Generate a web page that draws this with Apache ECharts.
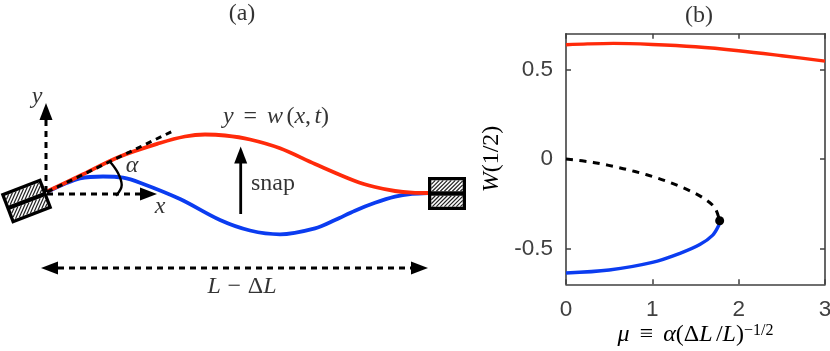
<!DOCTYPE html>
<html><head><meta charset="utf-8">
<script src="https://cdn.jsdelivr.net/npm/echarts@6/dist/echarts.min.js"></script>
<style>html,body{margin:0;padding:0;background:#fff}#c{width:830px;height:351px}</style></head>
<body><div id="c"></div>
<script>
// Panel (b) data: [mu, W]
const upperBranch = [[0,0.638],[0.25,0.643],[0.55,0.646],[1,0.64],[1.5,0.627],[2,0.605],[2.5,0.577],[3,0.547]];
const unstableBranch = [[0,0],[0.316,-0.019],[0.664,-0.054],[0.935,-0.088],[1.205,-0.131],[1.475,-0.187],[1.63,-0.231],[1.726,-0.274],[1.78,-0.345]];
const lowerBranch = [[0,-0.637],[0.5,-0.62],[1,-0.578],[1.32,-0.527],[1.55,-0.478],[1.7,-0.425],[1.77,-0.37],[1.78,-0.345]];
const foldPoint = [[1.78,-0.345]];
const xTicks = [0,1,2,3];
const yTicks = [-0.5,0,0.5];
const yTickLabels = {'-0.5':'-0.5','0':'0','0.5':'0.5'};

// Panel (a) schematic, in drawing units
const beamSnapped = [[47,191.5],[80,175.7],[120,156.5],[160,143],[185,136.5],[205,134.5],[225,135.5],[250,139.5],[280,148.3],[315,164],[355,181],[375,187],[395,191],[412,192.7],[428,193]];
const beamInitial = [[47,192],[62,185],[80,178.3],[103,176.5],[123,177.7],[140,182.7],[180,199],[220,220],[250,230.5],[280,234.3],[315,228.3],[335,220],[355,210.7],[375,202.8],[395,196.7],[412,193.9],[428,193]];
const axisY = [[46,192],[46,120]];
const axisX = [[47,194],[140,194]];
const tangent = [[47,192],[173,131]];
const angleArc = [[110,161.7],[118,173],[121.7,185],[116,195.7]];
const snapShaft = [[240.7,214],[240.7,163]];
const spanLine = [[58,268],[411,268]];
const arrowHeads = [[46,111.5,0],[148.5,194,-90],[240.7,155,0],[419.5,268,-90],[49.5,268,90]];
const clamps = [[26.5,201,21,43,32],[447,193.5,0,38,33]];
const annotations = [
  [242,14,'{r|(a)}'],[699,16,'{r|(b)}'],
  [37,97,'{i|y}'],[160,207,'{i|x}'],[132,166,'{i|α}'],
  [276,117,'{i|y}   {r|=}   {i|w} {r|(}{i|x}{r|,} {i|t}{r|)}'],
  [273,184,'{r|snap}'],[242,287,'{i|L}  {r|−}  {r|Δ}{i|L}']
];

const RED='#ff2a0a', BLUE='#0b3cf0', INK='#404040';
const SIZE=24;
const rich={i:{fontFamily:'Liberation Serif',fontStyle:'italic',fontSize:SIZE,color:'#000'},
            r:{fontFamily:'Liberation Serif',fontSize:SIZE,color:'#000'}};

function hatch(x,y,w,h,step){
  const out=[];
  for(let t=-h;t<w;t+=step){
    let x1=t,y1=y+h,x2=t+h,y2=y;
    if(x1<0){y1=y+h+x1;x1=0;}
    if(x2>w){y2=y+(x2-w);x2=w;}
    out.push({type:'line',shape:{x1:x+x1,y1:y1,x2:x+x2,y2:y2},style:{stroke:'#222',lineWidth:1.2}});
  }
  return out;
}
function renderClamp(p,api){
  const c=api.coord([api.value(0),api.value(1)]);
  const a=api.value(2)*Math.PI/180,w=api.value(3),h=api.value(4);
  const b=3.3,gap=4.5,sw=w-2*b,sh=(h-2*b-gap)/2,x0=-w/2+b,y0=-h/2+b,y1=y0+sh+gap;
  return {type:'group',x:c[0],y:c[1],rotation:a,children:[
    {type:'rect',shape:{x:-w/2,y:-h/2,width:w,height:h},style:{fill:'#000'}},
    {type:'rect',shape:{x:x0,y:y0,width:sw,height:sh},style:{fill:'#fff'}},
    {type:'rect',shape:{x:x0,y:y1,width:sw,height:sh},style:{fill:'#fff'}},
    ...hatch(x0,y0,sw,sh,4),...hatch(x0,y1,sw,sh,4)
  ]};
}
function sketchLine(data,color,width,type,z){
  return {type:'line',xAxisIndex:0,yAxisIndex:0,data,showSymbol:false,symbol:'none',silent:true,
    lineStyle:{color,width,type:type||'solid',cap:'butt'},z:z||2,animation:false};
}
const dash=[6,5];
const chart=echarts.init(document.getElementById('c'),null,{renderer:'canvas'});
const tickAxis={show:true,onZero:false,lineStyle:{color:INK,width:1.6}};
const tickStyle=v=>({inside:true,length:5,lineStyle:{color:INK,width:1.5},customValues:v});
chart.setOption({
  animation:false,backgroundColor:'#fff',
  grid:[{left:0,top:0,width:830,height:351,outerBoundsMode:'none'},
        {left:566,top:33.7,width:259,height:250.6,outerBoundsMode:'none'}],
  xAxis:[
    {gridIndex:0,type:'value',min:0,max:830,show:false},
    {gridIndex:1,type:'value',min:0,max:3,position:'bottom',axisLine:tickAxis,splitLine:{show:false},
      axisTick:tickStyle(xTicks),
      axisLabel:{customValues:xTicks,color:INK,fontFamily:'Liberation Sans',fontSize:22.5,margin:14,showMinLabel:true,showMaxLabel:true},
      name:'{i|μ}   {r|≡}   {i|α}{r|(Δ}{i|L} {r|/}{i|L}{r|)}{s|−1/2}',nameLocation:'middle',nameGap:38,nameMoveOverlap:false,
      nameTextStyle:{rich:Object.assign({},rich,{s:{fontFamily:'Liberation Serif',fontSize:16,color:'#000',padding:[0,0,9,0]}})}},
    {gridIndex:1,type:'value',min:0,max:3,position:'top',axisLine:tickAxis,splitLine:{show:false},
      axisTick:tickStyle(xTicks),axisLabel:{show:false}}
  ],
  yAxis:[
    {gridIndex:0,type:'value',min:0,max:351,inverse:true,show:false},
    {gridIndex:1,type:'value',min:-0.7,max:0.7,position:'left',axisLine:tickAxis,splitLine:{show:false},
      axisTick:tickStyle(yTicks),
      axisLabel:{customValues:yTicks,color:INK,fontFamily:'Liberation Sans',fontSize:22.5,margin:13,
        formatter:v=>yTickLabels[String(v)]},
      name:'{i|W}{r|(1/2)}',nameLocation:'middle',nameGap:62,nameRotate:90,nameMoveOverlap:false,nameTextStyle:{rich}},
    {gridIndex:1,type:'value',min:-0.7,max:0.7,position:'right',axisLine:tickAxis,splitLine:{show:false},
      axisTick:tickStyle(yTicks),axisLabel:{show:false}}
  ],
  series:[
    Object.assign(sketchLine(beamInitial,BLUE,3.8),{smooth:0.33}),
    Object.assign(sketchLine(beamSnapped,RED,3.8),{smooth:0.33,z:3}),
    sketchLine(axisY,'#000',3,dash,4),
    sketchLine(axisX,'#000',3,dash,4),
    sketchLine(tangent,'#000',3,dash,4),
    Object.assign(sketchLine(angleArc,'#000',2.4,'solid',4),{smooth:0.4}),
    sketchLine(snapShaft,'#000',2.8,'solid',4),
    sketchLine(spanLine,'#000',3,dash,4),
    {type:'scatter',xAxisIndex:0,yAxisIndex:0,data:arrowHeads,symbol:'triangle',symbolSize:[13,17],silent:true,z:5,
      symbolRotate:(v)=>v[2],itemStyle:{color:'#000',opacity:1},encode:{x:0,y:1}},
    {type:'custom',xAxisIndex:0,yAxisIndex:0,data:clamps,renderItem:renderClamp,silent:true,z:5,clip:false,encode:{x:0,y:1}},
    {type:'scatter',xAxisIndex:0,yAxisIndex:0,data:annotations,symbolSize:0,silent:true,z:6,encode:{x:0,y:1},
      label:{show:true,position:'inside',formatter:p=>p.data[2],rich}},
    {type:'line',xAxisIndex:1,yAxisIndex:1,data:upperBranch,smooth:0.33,symbol:'none',lineStyle:{color:RED,width:3.4},silent:true,z:3},
    {type:'line',xAxisIndex:1,yAxisIndex:1,data:unstableBranch,smooth:0.33,symbol:'none',lineStyle:{color:'#000',width:3,type:[7,6.5]},silent:true,z:3},
    {type:'line',xAxisIndex:1,yAxisIndex:1,data:lowerBranch,smooth:0.33,symbol:'none',lineStyle:{color:BLUE,width:3.4},silent:true,z:3},
    {type:'scatter',xAxisIndex:1,yAxisIndex:1,data:foldPoint,symbol:'circle',symbolSize:9,itemStyle:{color:'#000',opacity:1},silent:true,z:4}
  ]
});
</script></body></html>
